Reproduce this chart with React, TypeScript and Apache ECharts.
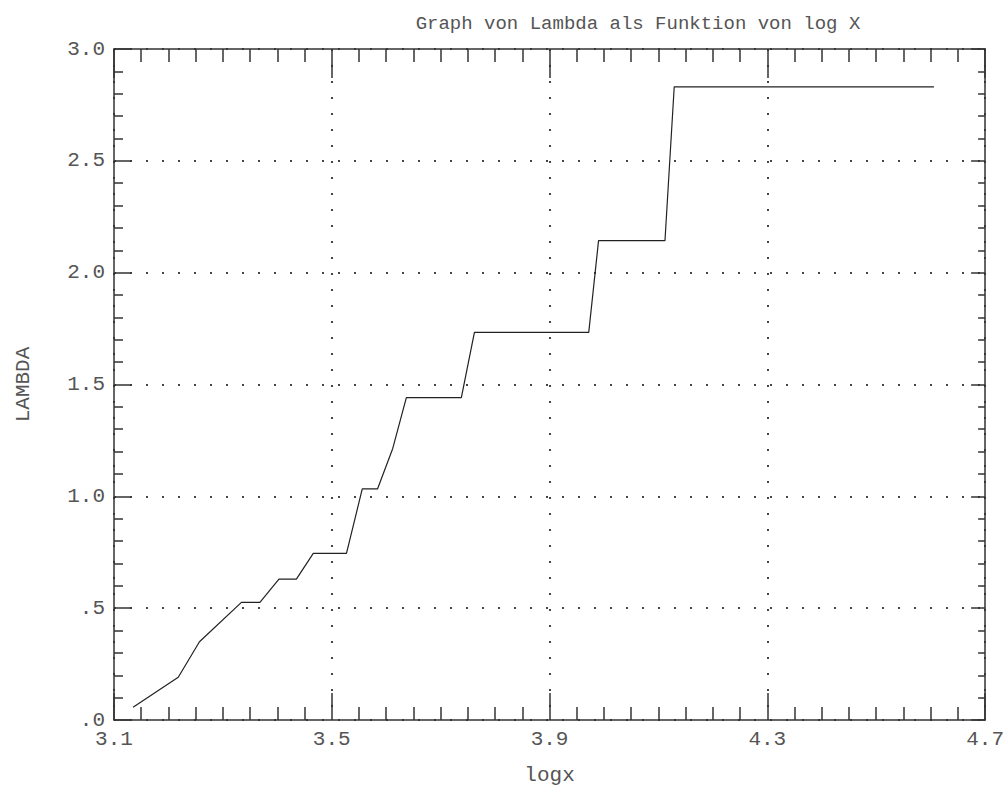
import React, { useEffect, useRef } from "react";
import * as echarts from "echarts";

const TITLE = "Graph von Lambda als Funktion von log X";
const X_NAME = "logx";
const Y_NAME = "LAMBDA";

const X_MIN = 3.1;
const X_MAX = 4.7;
const X_STEP = 0.4;
const Y_MIN = 0;
const Y_MAX = 3.0;
const Y_STEP = 0.5;

const logx = [3.135, 3.218, 3.257, 3.334, 3.368, 3.403, 3.435, 3.466, 3.527, 3.556, 3.584, 3.612, 3.637, 3.738, 3.762, 3.972, 3.99, 4.112, 4.129, 4.606];
const lambda = [0.057, 0.191, 0.35, 0.526, 0.526, 0.63, 0.63, 0.745, 0.745, 1.033, 1.033, 1.214, 1.441, 1.441, 1.733, 1.733, 2.143, 2.143, 2.831, 2.831];

const FONT = "Liberation Mono";
const TEXT_COLOR = "#555";
const AXIS_COLOR = "#333";

export default function App() {
  const ref = useRef<HTMLDivElement>(null);
  useEffect(() => {
    if (!ref.current) return;
    const chart = echarts.init(ref.current, undefined, { renderer: "svg" });
    const span = X_MAX - X_MIN;
    const axisLine = { show: true, onZero: false, lineStyle: { color: AXIS_COLOR, width: 1.5 } };
    const tickStyle = { color: AXIS_COLOR, width: 1.5 };
    const dotted = { show: true, lineStyle: { color: "#444", width: 2, type: [2, 14] as any } };
    const xLabelFmt = (v: number) => (X_MIN + v).toFixed(1);
    const yLabelFmt = (v: number) => {
      let s = v.toFixed(1);
      if (s.startsWith("0")) s = s.slice(1);
      return s;
    };
    chart.setOption({
      animation: false,
      backgroundColor: "#fff",
      title: {
        text: TITLE,
        left: 633,
        top: 9,
        textAlign: "center",
        textStyle: { fontFamily: FONT, fontSize: 19, fontWeight: "normal", color: TEXT_COLOR },
      },
      grid: { left: 114, top: 49, width: 872, height: 671, containLabel: false },
      xAxis: [
        {
          type: "value",
          position: "bottom",
          min: 0,
          max: span,
          interval: X_STEP,
          axisLine,
          axisTick: { show: true, inside: true, length: 27, lineStyle: tickStyle },
          minorTick: { show: true, splitNumber: 8, length: 13, lineStyle: tickStyle },
          axisLabel: {
            formatter: xLabelFmt,
            fontFamily: FONT,
            fontSize: 21,
            lineHeight: 17,
            color: TEXT_COLOR,
            margin: 11,
          },
          splitLine: dotted,
          name: X_NAME,
          nameLocation: "middle",
          nameGap: 45,
          nameTextStyle: { fontFamily: FONT, fontSize: 21, color: TEXT_COLOR },
        },
        {
          type: "value",
          position: "top",
          min: 0,
          max: span,
          interval: X_STEP,
          axisLine,
          axisTick: { show: true, inside: true, length: 29, lineStyle: tickStyle },
          minorTick: { show: true, splitNumber: 8, length: 13, lineStyle: tickStyle },
          axisLabel: { show: false },
          splitLine: { show: false },
        },
      ],
      yAxis: [
        {
          type: "value",
          position: "left",
          min: Y_MIN,
          max: Y_MAX,
          interval: Y_STEP,
          axisLine,
          axisTick: { show: true, inside: true, length: 17, lineStyle: tickStyle },
          minorTick: { show: true, splitNumber: 5, length: 9, lineStyle: tickStyle },
          axisLabel: {
            formatter: yLabelFmt,
            fontFamily: FONT,
            fontSize: 21,
            lineHeight: 15,
            color: TEXT_COLOR,
            margin: 9,
          },
          splitLine: dotted,
          name: Y_NAME,
          nameLocation: "middle",
          nameRotate: 90,
          nameGap: 80,
          nameTextStyle: { fontFamily: FONT, fontSize: 21, color: TEXT_COLOR },
        },
        {
          type: "value",
          position: "right",
          min: Y_MIN,
          max: Y_MAX,
          interval: Y_STEP,
          axisLine,
          axisTick: { show: true, inside: true, length: 14, lineStyle: tickStyle },
          minorTick: { show: true, splitNumber: 5, length: 7, lineStyle: tickStyle },
          axisLabel: { show: false },
          splitLine: { show: false },
        },
      ],
      series: [
        {
          type: "line",
          xAxisIndex: 0,
          yAxisIndex: 0,
          showSymbol: false,
          symbol: "none",
          lineStyle: { color: "#222", width: 1.2 },
          data: logx.map((x, i) => [x - X_MIN, lambda[i]]),
        },
      ],
    });
    return () => chart.dispose();
  }, []);
  return (
    <div
      ref={ref}
      style={{ position: "absolute", left: 0, top: 0, width: 1007, height: 793, background: "#fff" }}
    />
  );
}
